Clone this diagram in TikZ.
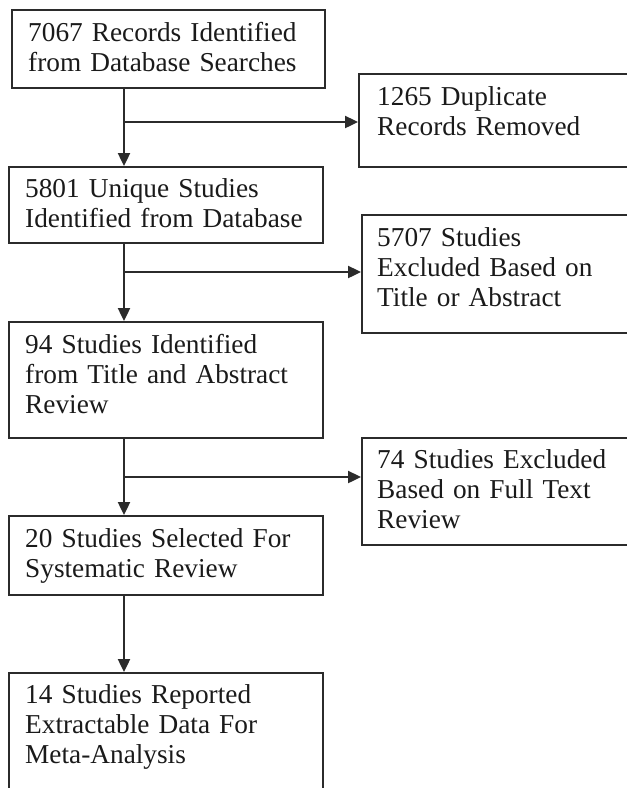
\documentclass[tikz,border=0pt]{standalone}
\usepackage{fontspec}
\setmainfont{Liberation Serif}
\usetikzlibrary{arrows.meta,calc}
\definecolor{ln}{HTML}{2B2B2B}
\definecolor{tx}{HTML}{1A1A1A}
\begin{document}
\begin{tikzpicture}[x=1pt,y=-1pt,
  box/.style={draw=ln, line width=2pt, rectangle, inner sep=0pt, anchor=north west},
  txt/.style={anchor=base west, text width=300pt, align=left, inner sep=0pt, text=tx,
    font=\fontsize{27.3pt}{30pt}\selectfont},
  arr/.style={draw=ln, line width=2.4pt, -{Triangle[length=13pt,width=12pt]}}]
\useasboundingbox (0,0) rectangle (627,788);
\clip (0,0) rectangle (627,788);
% main column boxes
\node[box, minimum width=313pt, minimum height=78pt] (b1) at (11,9) {};
\node[box, minimum width=314pt, minimum height=76pt] (b2) at (8,166) {};
\node[box, minimum width=314pt, minimum height=116pt] (b3) at (8,321) {};
\node[box, minimum width=314pt, minimum height=79pt] (b4) at (8,515) {};
\node[box, minimum width=314pt, minimum height=140pt] (b5) at (8,672) {};
% side boxes
\node[box, minimum width=290pt, minimum height=93pt] (d1) at (358,73) {};
\node[box, minimum width=290pt, minimum height=118pt] (e1) at (361,214) {};
\node[box, minimum width=290pt, minimum height=107pt] (e2) at (361,437) {};
% texts
\node[txt] (t1) at ($(b1.north west)+(17,32)$) {7067 Records Identified\\from Database Searches};
\node[txt] (t2) at ($(b2.north west)+(17,31)$) {5801 Unique Studies\\Identified from Database};
\node[txt] (t3) at ($(b3.north west)+(17,32)$) {94 Studies Identified\\from Title and Abstract\\Review};
\node[txt] (t4) at ($(b4.north west)+(17,32)$) {20 Studies Selected For\\Systematic Review};
\node[txt] (t5) at ($(b5.north west)+(17,31)$) {14 Studies Reported\\Extractable Data For\\Meta-Analysis};
\node[txt] (td1) at ($(d1.north west)+(19,32)$) {1265 Duplicate\\Records Removed};
\node[txt] (te1) at ($(e1.north west)+(16,32)$) {5707 Studies\\Excluded Based on\\Title or Abstract};
\node[txt] (te2) at ($(e2.north west)+(16,31)$) {74 Studies Excluded\\Based on Full Text\\Review};
% trunk
\coordinate (tr) at (124,0);
\coordinate (j1) at (124,122);
\coordinate (j2) at (124,272);
\coordinate (j3) at (124,477);
\draw[arr] (b1.south -| tr) -- (b2.north -| tr);
\draw[arr] (b2.south -| tr) -- (b3.north -| tr);
\draw[arr] (b3.south -| tr) -- (b4.north -| tr);
\draw[arr] (b4.south -| tr) -- (b5.north -| tr);
\draw[arr] (j1) -- (j1 -| d1.west);
\draw[arr] (j2) -- (j2 -| e1.west);
\draw[arr] (j3) -- (j3 -| e2.west);
\end{tikzpicture}
\end{document}
